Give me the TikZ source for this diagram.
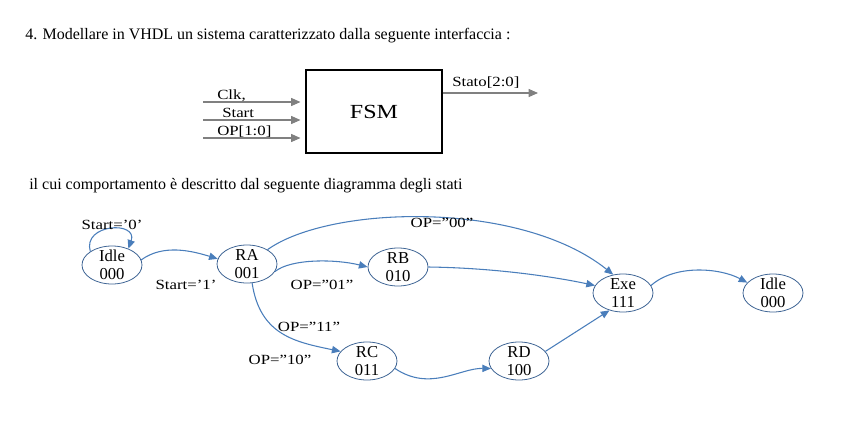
\documentclass[tikz,border=0pt]{standalone}
\usepackage{fontspec}
\setmainfont{Liberation Serif}
\newfontfamily\wideserif[FakeStretch=1.2]{Liberation Serif}
\usepackage{xcolor}
\usetikzlibrary{arrows.meta,shapes.geometric}
\definecolor{linkblue}{RGB}{74,126,187}
\definecolor{stateline}{RGB}{62,100,148}
\definecolor{portgray}{RGB}{128,128,128}

\begin{document}
\begin{tikzpicture}[x=0.75pt, y=-0.75pt, every node/.style={inner sep=0pt, font=\wideserif\fontsize{10.5}{12}\selectfont},
    state/.style={draw=stateline, line width=0.6pt, ellipse, minimum width=45pt, minimum height=28.5pt, inner sep=-2pt, align=center, font=\fontsize{12.5}{13.5}\selectfont},
    port/.style={draw=portgray, line width=0.8pt, -{Triangle[length=7pt, width=6pt]}},
    link/.style={draw=linkblue, line width=0.8pt, -{Triangle[length=6.5pt, width=5.5pt]}}]
    \useasboundingbox (0,0) rectangle (860,422);

    \node[anchor=base west, font=\fontsize{12}{14}\selectfont] (task) at (25,39) {4. Modellare in VHDL un sistema caratterizzato dalla seguente interfaccia :};

    % interfaccia
    \node[draw, line width=0.8pt, minimum width=102pt, minimum height=62.25pt, font=\wideserif\fontsize{15}{18}\selectfont] (fsm) at (374,111.5) {FSM};
    \coordinate (clkin) at (203,102);
    \coordinate (startin) at (203,120);
    \coordinate (opin) at (203,138);
    \coordinate (statoout) at (538,93);
    \draw[port, shorten >=3.75pt] (clkin) -- (clkin -| fsm.west);
    \draw[port, shorten >=3.75pt] (startin) -- (startin -| fsm.west);
    \draw[port, shorten >=3.75pt] (opin) -- (opin -| fsm.west);
    \draw[port] (statoout -| fsm.east) -- (statoout);
    \node[anchor=base west] (clklab) at (217,99) {Clk,};
    \node[anchor=base west] (startlab) at (222,117) {Start};
    \node[anchor=base west] (oplab) at (217,135) {OP[1:0]};
    \node[anchor=base west] (statolab) at (452,86) {Stato[2:0]};

    \node[anchor=base west, font=\fontsize{12}{14}\selectfont] (intro) at (29,189) {il cui comportamento è descritto dal seguente diagramma degli stati};

    % diagramma degli stati
    \node[state] (idleA) at (112,265) {Idle\\000};
    \node[state] (ra) at (247,264) {RA\\001};
    \node[state] (rb) at (398,267) {RB\\010};
    \node[state] (rc) at (367,361) {RC\\011};
    \node[state] (rd) at (519,361) {RD\\100};
    \node[state] (exe) at (623,293) {Exe\\111};
    \node[state] (idleB) at (773,293) {Idle\\000};

    \draw[link] (idleA.148) .. controls +(-8,-28) and +(10,-28) .. (idleA.45);
    \draw[link] (idleA.10) .. controls +(22,-16) and +(-26,-8) .. (ra.170);
    \draw[link] (ra.35) .. controls (330,205) and (520,200) .. (exe.118);
    \draw[link] (ra.-15) .. controls +(16,-13) and +(-32,-8) .. (rb.180);
    \draw[link] (rb.east) .. controls (500,268) and (560,278) .. (exe.165);
    \draw[link] (ra.-75) .. controls (260,335) and (295,342) .. (rc.160);
    \draw[link] (rc.-15) .. controls (430,392) and (460,368) .. (rd.195);
    \draw[link] (rd.20) -- (exe.-128);
    \draw[link] (exe.15) .. controls (675,264) and (720,268) .. (idleB.158);

    \node (start0) at (112,225) {Start=’0’};
    \node (start1) at (186,285) {Start=’1’};
    \node (op00) at (442,223) {OP=”00”};
    \node (op01) at (322,285) {OP=”01”};
    \node (op11) at (309,327) {OP=”11”};
    \node (op10) at (280,360) {OP=”10”};
\end{tikzpicture}
\end{document}
